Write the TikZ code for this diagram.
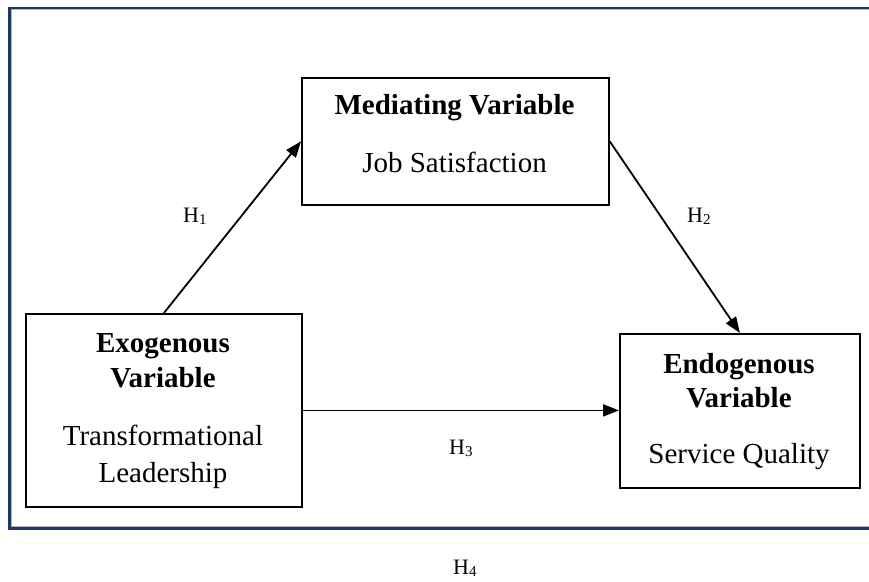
\documentclass[tikz,border=0pt]{standalone}
\usepackage{fontspec}
\setmainfont{Liberation Serif}
\usetikzlibrary{arrows.meta}
\definecolor{framenavy}{HTML}{1F3864}
\definecolor{framelight}{HTML}{AEB9CE}
\begin{document}
\begin{tikzpicture}[x=1pt,y=-1pt,
  box/.style={draw=black,line width=1.8pt,inner sep=0pt,anchor=north west},
  boxtext/.style={font=\fontsize{29}{33}\selectfont,anchor=base,inner sep=0pt},
  boldtext/.style={font=\fontsize{29}{33}\selectfont\bfseries,anchor=base,inner sep=0pt},
  hlabel/.style={font=\fontsize{22}{24}\selectfont,anchor=base west,inner sep=0pt},
  link/.style={line width=1.8pt,-{Triangle[length=16pt,width=12pt]}}]
\useasboundingbox (0,0) rectangle (869,581);
\fill[white] (0,0) rectangle (869,581);
% outer frame (open at the right edge)
\draw[framenavy,line width=2.6pt] (880,7.9) -- (9.7,7.9) -- (9.7,528.7) -- (880,528.7);
\draw[framelight,line width=1pt] (880,9.8) -- (11.6,9.8) -- (11.6,526.9) -- (880,526.9);
% boxes
\node[box,minimum width=307pt,minimum height=127pt] (med) at (301,77) {};
\node[box,minimum width=276pt,minimum height=193pt] (exo) at (25,313) {};
\node[box,minimum width=240pt,minimum height=154pt] (endo) at (619,333) {};
% box texts
\node[boldtext] (medtitle) at (454.5,114) {Mediating Variable};
\node[boxtext] (medsub) at (454.5,172) {Job Satisfaction};
\node[boldtext] (exotitleA) at (163,352) {Exogenous};
\node[boldtext] (exotitleB) at (163,387) {Variable};
\node[boxtext] (exosubA) at (163,445) {Transformational};
\node[boxtext] (exosubB) at (163,482) {Leadership};
\node[boldtext] (endotitleA) at (739,373) {Endogenous};
\node[boldtext] (endotitleB) at (739,407) {Variable};
\node[boxtext] (endosub) at (739,463) {Service Quality};
% connectors
\draw[link] (exo.north) -- (med.west);
\draw[link] (med.east) -- (endo.north);
\draw[link] (exo.east) -- (exo.east -| endo.west);
% hypothesis labels
\node[hlabel] (h1) at (183,222) {H\raisebox{-2.5pt}{\fontsize{15}{15}\selectfont 1}};
\node[hlabel] (h2) at (687,222) {H\raisebox{-2.5pt}{\fontsize{15}{15}\selectfont 2}};
\node[hlabel] (h3) at (449,454) {H\raisebox{-2.5pt}{\fontsize{15}{15}\selectfont 3}};
\node[hlabel] (h4) at (453,574) {H\raisebox{-2.5pt}{\fontsize{15}{15}\selectfont 4}};
\end{tikzpicture}
\end{document}
